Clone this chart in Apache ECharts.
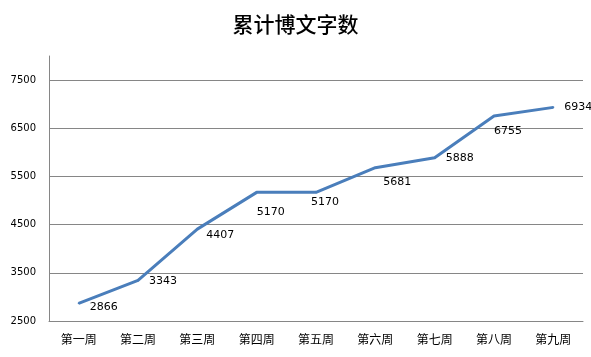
<!DOCTYPE html>
<html><head><meta charset="utf-8">
<script src="https://cdn.jsdelivr.net/npm/echarts@6/dist/echarts.min.js"></script>
<style>html,body{margin:0;padding:0;background:#fff}#c{width:591px;height:357px}</style>
</head><body><div id="c"></div>
<script>
const categories = ['第一周','第二周','第三周','第四周','第五周','第六周','第七周','第八周','第九周'];
const wordCounts = [2866, 3343, 4407, 5170, 5170, 5681, 5888, 6755, 6934];
const labelOffsets = [[0,4],[0,1],[-2,6],[-11,20],[-16,10],[-3,14],[0,0],[-11,15],[0,0]];

const chart = echarts.init(document.getElementById('c'), null, {renderer:'canvas'});
chart.setOption({
  animation:false,
  backgroundColor:'#fff',
  title:{text:'累计博文字数', left:'center', top:9,
    textStyle:{fontFamily:'Noto Sans CJK SC', fontSize:21, fontWeight:500, color:'#000'}},
  grid:{left:49, right:8, top:56, bottom:36},
  xAxis:{type:'category', data:categories, boundaryGap:true,
    axisLine:{lineStyle:{color:'#868686', width:1}},
    axisTick:{show:false},
    axisLabel:{color:'#000', fontSize:12, fontFamily:'Noto Sans CJK SC', margin:12}},
  yAxis:{type:'value', min:2500, max:8000, interval:1000,
    axisLine:{show:true, lineStyle:{color:'#868686'}},
    axisTick:{show:false},
    axisLabel:{color:'#000', fontSize:10, fontFamily:'DejaVu Sans', margin:13, showMaxLabel:false,
      formatter:v=>String(v)},
    splitLine:{show:true, showMaxLine:false, lineStyle:{color:'#868686', width:1}}},
  series:[{type:'line', data:wordCounts.map((v,i)=>({value:v, label:{show:true, offset:labelOffsets[i]}})),
    symbol:'circle', symbolSize:2, showSymbol:true, itemStyle:{color:'#4a7ebb', borderWidth:0},
    lineStyle:{color:'#4a7ebb', width:3, join:'round'},
    label:{show:true, position:'right', distance:10, color:'#000', fontSize:11, fontFamily:'DejaVu Sans',
      formatter:p=>String(p.value)}}]
});
</script></body></html>
